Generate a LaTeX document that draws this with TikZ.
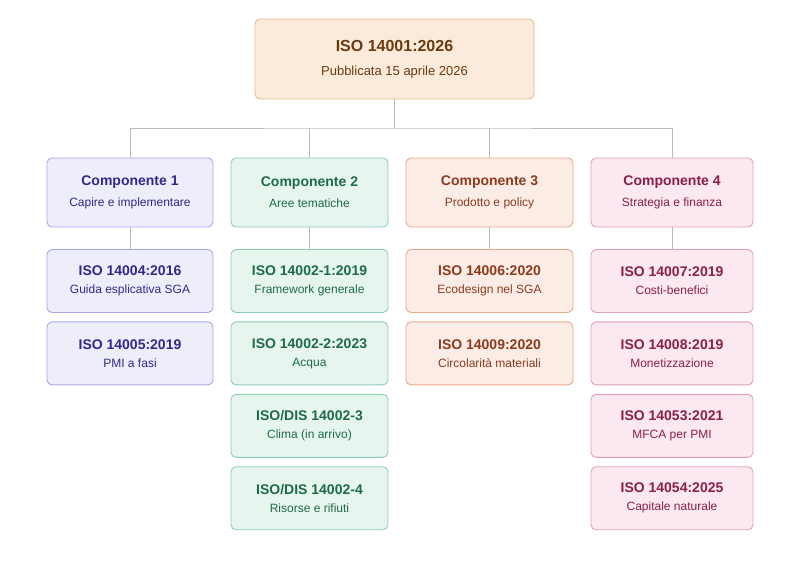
\documentclass[tikz,border=0pt]{standalone}
\usepackage{fontspec}
\setmainfont{Liberation Sans}
\usetikzlibrary{positioning}
\definecolor{topfill}{HTML}{FCEBDA}\definecolor{topdraw}{HTML}{E6BC8A}\definecolor{toptext}{HTML}{6B3A10}
\definecolor{afill}{HTML}{EEEEFB}\definecolor{adraw}{HTML}{A9A6E8}\definecolor{atext}{HTML}{2E2A8C}
\definecolor{bfill}{HTML}{E6F5EE}\definecolor{bdraw}{HTML}{8CCFB0}\definecolor{btext}{HTML}{1E6B4A}
\definecolor{cfill}{HTML}{FBEDE6}\definecolor{cdraw}{HTML}{E8A98C}\definecolor{ctext}{HTML}{8C3A1E}
\definecolor{dfill}{HTML}{FBE9EF}\definecolor{ddraw}{HTML}{E3A0B8}\definecolor{dtext}{HTML}{8C1E4A}
\definecolor{link}{HTML}{BBBBBB}
\newcommand{\bx}[3]{{\fontsize{14}{17}\selectfont\bfseries #1}\\[#3]{\fontsize{12}{14}\selectfont #2}}
\begin{document}
\begin{tikzpicture}[x=1pt, y=-1pt,
  box/.style={draw, rounded corners=5pt, line width=0.9pt, align=center, inner sep=2pt},
  grpA/.style={box, fill=afill, draw=adraw, text=atext, minimum width=166pt},
  grpB/.style={box, fill=bfill, draw=bdraw, text=btext, minimum width=157pt},
  grpC/.style={box, fill=cfill, draw=cdraw, text=ctext, minimum width=167pt},
  grpD/.style={box, fill=dfill, draw=ddraw, text=dtext, minimum width=162pt},
  comp/.style={minimum height=69pt},
  sub/.style={minimum height=63pt},
  link/.style={draw=link, line width=0.9pt},
  node distance=8.5pt]
  \useasboundingbox (0,0) rectangle (800,564);
  \node[box, fill=topfill, draw=topdraw, text=toptext, minimum width=279pt, minimum height=80pt] (root) at (394.5,59)
    {{\fontsize{16}{19}\selectfont\bfseries ISO 14001:2026}\\[12pt]{\fontsize{13}{15}\selectfont Pubblicata 15 aprile 2026}};
  % componenti
  \node[grpA, comp] (c1) at (130,192.5) {\bx{Componente 1}{Capire e implementare}{9pt}};
  \node[grpB, comp] (c2) at (309.5,192.5) {\bx{Componente 2}{Aree tematiche}{9pt}};
  \node[grpC, comp] (c3) at (489.5,192.5) {\bx{Componente 3}{Prodotto e policy}{9pt}};
  \node[grpD, comp] (c4) at (672,192.5) {\bx{Componente 4}{Strategia e finanza}{9pt}};
  % norme
  \node[grpA, sub] (a1) at (130,281) {\bx{ISO 14004:2016}{Guida esplicativa SGA}{6pt}};
  \node[grpA, sub] (a2) [below = of a1] {\bx{ISO 14005:2019}{PMI a fasi}{6pt}};
  \node[grpB, sub] (b1) at (309.5,281) {\bx{ISO 14002-1:2019}{Framework generale}{6pt}};
  \node[grpB, sub] (b2) [below = of b1] {\bx{ISO 14002-2:2023}{Acqua}{6pt}};
  \node[grpB, sub] (b3) [below = of b2] {\bx{ISO/DIS 14002-3}{Clima (in arrivo)}{6pt}};
  \node[grpB, sub] (b4) [below = of b3] {\bx{ISO/DIS 14002-4}{Risorse e rifiuti}{6pt}};
  \node[grpC, sub] (d1) at (489.5,281) {\bx{ISO 14006:2020}{Ecodesign nel SGA}{6pt}};
  \node[grpC, sub] (d2) [below = of d1] {\bx{ISO 14009:2020}{Circolarità materiali}{6pt}};
  \node[grpD, sub] (e1) at (672,281) {\bx{ISO 14007:2019}{Costi-benefici}{6pt}};
  \node[grpD, sub] (e2) [below = of e1] {\bx{ISO 14008:2019}{Monetizzazione}{6pt}};
  \node[grpD, sub] (e3) [below = of e2] {\bx{ISO 14053:2021}{MFCA per PMI}{6pt}};
  \node[grpD, sub] (e4) [below = of e3] {\bx{ISO 14054:2025}{Capitale naturale}{6pt}};
  % collegamenti
  \coordinate (bus) at (394.5,128);
  \draw[link] (root.south) -- (bus);
  \draw[link] (c1.north) |- (bus) -| (c4.north);
  \draw[link] (c2.north) -- (c2.north |- bus);
  \draw[link] (c3.north) -- (c3.north |- bus);
  \draw[link] (c1) -- (a1);
  \draw[link] (c2) -- (b1);
  \draw[link] (c3) -- (d1);
  \draw[link] (c4) -- (e1);
\end{tikzpicture}
\end{document}
